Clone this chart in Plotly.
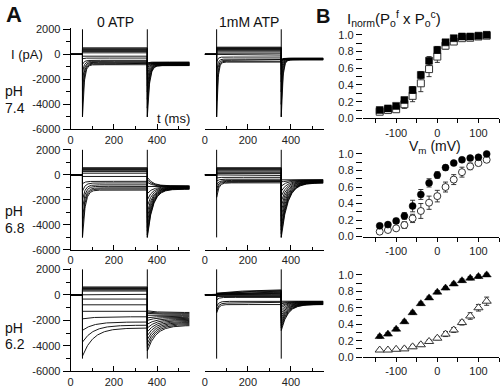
import numpy as np
import plotly.graph_objects as go

# ---------------- Panel A data (pA), one entry per voltage step ----------------
T_ON, T_OFF, T_END = 55, 355, 550
CAP_TOP, CAP_BOTTOM = 2000, -5000

# pH 7.4, 0 ATP
p74_0_ss = [520, 450, 380, 300, 220, 120, -150, -300, -480, -560, -640, -710, -770, -830]
p74_0_on = [520, 450, 380, 300, 220, 120, -150, -350, -800, -1400, -2100, -2900, -3900, -5000]
p74_0_tau = 8
p74_0_tail_on = [-5000, -4300, -3600, -3000, -2500, -2000, -1600, -1300, -1100, -950, -850, -780, -720, -680]
p74_0_tail_ss = [-900, -880, -860, -840, -820, -800, -780, -760, -740, -720, -700, -680, -650, -620]
p74_0_tail_tau = 10

# pH 7.4, 1 mM ATP
p74_1_ss = [570, 520, 470, 420, 370, 320, 200, 90, -60, -220, -380, -470, -550, -620]
p74_1_on = [570, 520, 470, 420, 370, 320, 200, 90, -60, -600, -1400, -2500, -3700, -5000]
p74_1_tau = 6
p74_1_tail_on = [-5000, -4000, -3000, -2200, -1600, -1200, -900, -700, -600, -550, -500, -470, -440, -420]
p74_1_tail_ss = [-440, -430, -420, -410, -400, -390, -380, -370, -360, -350, -340, -330, -320, -310]
p74_1_tail_tau = 7

# pH 6.8, 0 ATP
p68_0_ss = [570, 500, 430, 360, 260, 130, -130, -520, -650, -800, -920, -1040, -1130, -1220]
p68_0_on = [570, 500, 430, 360, 260, 130, -130, -700, -1300, -2000, -2700, -3500, -4200, -5000]
p68_0_tau = 12
p68_0_tail_on = [-5000, -4800, -4500, -4200, -3800, -3400, -3000, -2500, -2000, -1500, -900, -600, -400, -200]
p68_0_tail_ss = [-1150, -1120, -1100, -1080, -1060, -1040, -1020, -1000, -980, -960, -940, -920, -900, -880]
p68_0_tail_tau = 25

# pH 6.8, 1 mM ATP
p68_1_ss = [570, 500, 440, 380, 300, 200, 100, -50, -200, -350, -450, -520, -580, -640]
p68_1_on = [570, 500, 440, 380, 300, 200, 100, -50, -250, -500, -800, -1100, -1400, -1800]
p68_1_tau = 10
p68_1_tail_on = [-5000, -4700, -4400, -4100, -3700, -3300, -2900, -2500, -2100, -1700, -1300, -900, -600, -400]
p68_1_tail_ss = [-650, -630, -610, -590, -570, -550, -530, -510, -490, -470, -450, -430, -410, -390]
p68_1_tail_tau = 30

# pH 6.2, 0 ATP
p62_0_ss = [620, 560, 500, 440, 380, 300, 40, -330, -780, -1290, -1720, -2130, -2380, -2600]
p62_0_on = [620, 560, 500, 440, 380, 300, 40, -330, -780, -1290, -1880, -2780, -3700, -4800]
p62_0_tau = 50
p62_0_tail_on = [-4400, -4100, -3800, -3500, -3200, -2900, -2600, -2300, -2000, -1800, -1600, -1450, -1350, -1250]
p62_0_tail_ss = [-2400, -2320, -2240, -2160, -2080, -2000, -1920, -1840, -1760, -1680, -1600, -1520, -1450, -1380]
p62_0_tail_tau = 40

# pH 6.2, 1 mM ATP
p62_1_ss = [430, 370, 310, 250, 190, 130, 70, 10, -60, -130, -200, -510, -640, -760]
p62_1_on = [130, 110, 90, 70, 50, 30, 10, -10, -60, -130, -400, -900, -1200, -1400]
p62_1_tau = [150, 150, 150, 150, 150, 150, 150, 150, 10, 10, 10, 10, 10, 10]
p62_1_tail_on = [-2800, -2600, -2400, -2200, -2000, -1800, -1600, -1400, -1200, -1000, -850, -700, -600, -500]
p62_1_tail_ss = [-760, -740, -720, -700, -680, -660, -640, -620, -600, -580, -560, -540, -520, -500]
p62_1_tail_tau = 30

# ---------------- Panel B data ----------------
vm = [-140, -120, -100, -80, -60, -40, -20, 0, 20, 40, 60, 80, 100, 120]

b1_filled = [0.10, 0.12, 0.15, 0.22, 0.34, 0.52, 0.69, 0.82, 0.91, 0.96, 0.98, 0.98, 0.99, 1.00]
b1_filled_err = [0.01, 0.01, 0.02, 0.03, 0.04, 0.04, 0.05, 0.04, 0.03, 0.02, 0.01, 0.01, 0.01, 0.01]
b1_open = [0.08, 0.10, 0.11, 0.17, 0.27, 0.42, 0.59, 0.74, 0.87, 0.92, 0.96, 0.965, 0.98, 0.99]
b1_open_err = [0.01, 0.02, 0.03, 0.05, 0.07, 0.10, 0.09, 0.07, 0.04, 0.02, 0.02, 0.01, 0.01, 0.01]

b2_filled = [0.13, 0.145, 0.19, 0.25, 0.37, 0.51, 0.65, 0.745, 0.835, 0.89, 0.93, 0.95, 0.96, 1.00]
b2_filled_err = [0.02, 0.02, 0.03, 0.04, 0.07, 0.06, 0.05, 0.04, 0.03, 0.02, 0.02, 0.01, 0.01, 0.01]
b2_open = [0.06, 0.08, 0.10, 0.14, 0.22, 0.31, 0.41, 0.49, 0.60, 0.69, 0.78, 0.85, 0.89, 0.93]
b2_open_err = [0.01, 0.02, 0.02, 0.04, 0.05, 0.09, 0.08, 0.07, 0.06, 0.06, 0.06, 0.04, 0.03, 0.03]

b3_filled = [0.25, 0.28, 0.34, 0.43, 0.54, 0.65, 0.72, 0.79, 0.84, 0.89, 0.93, 0.96, 0.98, 1.00]
b3_filled_err = [0.02, 0.02, 0.02, 0.02, 0.02, 0.02, 0.02, 0.02, 0.02, 0.02, 0.02, 0.02, 0.02, 0.02]
b3_open = [0.086, 0.086, 0.095, 0.10, 0.125, 0.15, 0.19, 0.23, 0.28, 0.33, 0.42, 0.50, 0.60, 0.68]
b3_open_err = [0.01, 0.01, 0.01, 0.02, 0.02, 0.02, 0.02, 0.02, 0.03, 0.03, 0.03, 0.04, 0.04, 0.05]

a_ytick_vals = [2000, 0, -2000, -4000, -6000]
a_ytick_text = ["2000", "0", "-2000", "-4000", "-6000"]
a_xtick_vals = [0, 200, 400]
a_xtick_text = ["0", "200", "400"]
b_xtick_vals = [-100, 0, 100]
b_xtick_text = ["-100", "0", "100"]
b_ytick_vals = [0, 0.2, 0.4, 0.6, 0.8, 1.0]
b_ytick_text = ["0.0", "0.2", "0.4", "0.6", "0.8", "1.0"]

# ---------------- helpers ----------------
W, H = 500, 391
FONT = "Liberation Sans, Arial, sans-serif"


def px(x):
    return x / W


def py(y):
    return 1 - y / H


def build_traces(ss, on, tau, tail_on, tail_ss, tail_tau):
    t1 = np.linspace(T_ON, T_OFF, 240)
    t2 = np.linspace(T_OFF, T_END, 200)
    xs, ys = [], []
    for i in range(len(ss)):
        ta = tau[i] if isinstance(tau, list) else tau
        tb = tail_tau[i] if isinstance(tail_tau, list) else tail_tau
        y1 = ss[i] + (on[i] - ss[i]) * np.exp(-(t1 - T_ON) / ta)
        y2 = tail_ss[i] + (tail_on[i] - tail_ss[i]) * np.exp(-(t2 - T_OFF) / tb)
        xs += [0, T_ON] + list(t1) + list(t2) + [None]
        ys += [0, 0] + list(y1) + list(y2) + [None]
    return xs, ys


fig = go.Figure()

a_panels = [
    (p74_0_ss, p74_0_on, p74_0_tau, p74_0_tail_on, p74_0_tail_ss, p74_0_tail_tau),
    (p74_1_ss, p74_1_on, p74_1_tau, p74_1_tail_on, p74_1_tail_ss, p74_1_tail_tau),
    (p68_0_ss, p68_0_on, p68_0_tau, p68_0_tail_on, p68_0_tail_ss, p68_0_tail_tau),
    (p68_1_ss, p68_1_on, p68_1_tau, p68_1_tail_on, p68_1_tail_ss, p68_1_tail_tau),
    (p62_0_ss, p62_0_on, p62_0_tau, p62_0_tail_on, p62_0_tail_ss, p62_0_tail_tau),
    (p62_1_ss, p62_1_on, p62_1_tau, p62_1_tail_on, p62_1_tail_ss, p62_1_tail_tau),
]

# pixel geometry of the A rows: (y of -6000, y of 2000)
a_rows = [(128, 25), (252, 149), (377, 272)]
a_cols = [(68, 188), (203, 322.6)]
A_YMIN, A_YMAX, A_XMAX = -6000, 2100, 552

layout = dict(
    width=W, height=H, margin=dict(l=0, r=0, t=0, b=0),
    paper_bgcolor="white", plot_bgcolor="white", showlegend=False,
    font=dict(family=FONT, color="#111", size=11),
)

ax = 0
for k, params in enumerate(a_panels):
    ax += 1
    r, c = divmod(k, 2)
    ybot, y2000 = a_rows[r]
    ppu = (ybot - y2000) / 8000.0
    ytop = ybot - (A_YMAX - A_YMIN) * ppu
    xs, ys = build_traces(*params)
    xname = "x" if ax == 1 else f"x{ax}"
    yname = "y" if ax == 1 else f"y{ax}"
    fig.add_trace(go.Scatter(x=xs, y=ys, mode="lines", xaxis=xname, yaxis=yname,
                             line=dict(color="black", width=0.9), hoverinfo="skip"))
    fig.add_trace(go.Scatter(x=[T_ON, T_ON, None, T_OFF, T_OFF],
                             y=[CAP_TOP, CAP_BOTTOM, None, CAP_TOP, CAP_BOTTOM],
                             mode="lines", xaxis=xname, yaxis=yname,
                             line=dict(color="black", width=1), hoverinfo="skip"))
    xk = "xaxis" if ax == 1 else f"xaxis{ax}"
    yk = "yaxis" if ax == 1 else f"yaxis{ax}"
    layout[xk] = dict(
        domain=[px(a_cols[c][0]), px(a_cols[c][1])], range=[0, A_XMAX], anchor=yname,
        showline=True, linecolor="black", linewidth=1, ticks="inside", ticklen=5,
        tickcolor="black", tickvals=a_xtick_vals, ticktext=a_xtick_text,
        minor=dict(ticks="inside", ticklen=3, dtick=100, tick0=0, tickcolor="black"),
        showgrid=False, zeroline=False, tickfont=dict(size=11, color="#222"),
    )
    if c == 0:
        layout[yk] = dict(
            domain=[py(ybot), py(ytop)], range=[A_YMIN, A_YMAX], anchor=xname,
            showline=True, linecolor="black", linewidth=1, ticks="outside", ticklen=7,
            tickcolor="black", tickvals=a_ytick_vals, ticktext=a_ytick_text,
            minor=dict(ticks="outside", ticklen=4, dtick=1000, tick0=0, tickcolor="black"),
            showgrid=False, zeroline=False, tickfont=dict(size=11, color="#222"),
        )
    else:
        layout[yk] = dict(domain=[py(ybot), py(ytop)], range=[A_YMIN, A_YMAX],
                          anchor=xname, visible=False)

# ---------------- Panel B ----------------
b_rows = [(116.7, 30.7), (238.3, 153.3), (362.3, 277.7)]
B_XL, B_XR = 362, 499
B_XMIN, B_XMAX = -181, 150
B_YMAX = 1.06
b_sets = [
    (b1_filled, b1_filled_err, b1_open, b1_open_err, "square"),
    (b2_filled, b2_filled_err, b2_open, b2_open_err, "circle"),
    (b3_filled, b3_filled_err, b3_open, b3_open_err, "triangle-up"),
]
for r, (fv, fe, ov, oe, sym) in enumerate(b_sets):
    ax += 1
    xname, yname = f"x{ax}", f"y{ax}"
    y0, y1 = b_rows[r]
    ppu = y0 - y1
    ytop = y0 - B_YMAX * ppu
    msize = 7 if sym != "triangle-up" else 8
    fig.add_trace(go.Scatter(
        x=vm, y=ov, mode="markers", xaxis=xname, yaxis=yname,
        marker=dict(symbol=sym, size=msize, color="white", line=dict(color="#333", width=1)),
        error_y=dict(type="data", array=oe, color="#222", thickness=0.9, width=2.5),
        hoverinfo="skip"))
    fig.add_trace(go.Scatter(
        x=vm, y=fv, mode="markers", xaxis=xname, yaxis=yname,
        marker=dict(symbol=sym, size=msize, color="black", line=dict(color="black", width=0.5)),
        error_y=dict(type="data", array=fe, color="#222", thickness=0.9, width=2.5),
        hoverinfo="skip"))
    layout[f"xaxis{ax}"] = dict(
        domain=[px(B_XL), px(B_XR)], range=[B_XMIN, B_XMAX], anchor=yname,
        showline=True, linecolor="black", linewidth=1, ticks="outside", ticklen=4,
        tickcolor="black", tickvals=b_xtick_vals, ticktext=b_xtick_text,
        minor=dict(ticks="outside", ticklen=4, dtick=50, tick0=0, tickcolor="black"),
        showgrid=False, zeroline=False, tickfont=dict(size=11, color="#222"),
    )
    layout[f"yaxis{ax}"] = dict(
        domain=[py(y0), py(ytop)], range=[0, B_YMAX], anchor=xname,
        showline=False, ticks="outside", ticklen=6,
        tickcolor="black", tickvals=b_ytick_vals, ticktext=b_ytick_text,
        minor=dict(ticks="outside", ticklen=6, dtick=0.1, tick0=0, tickcolor="black"),
        showgrid=False, zeroline=False, tickfont=dict(size=11, color="#222"),
    )

fig.update_layout(**layout)


def label(text, x, y, size, xanchor="center", bold=False):
    if bold:
        text = f"<b>{text}</b>"
    fig.add_annotation(text=text, x=px(x), y=py(y), xref="paper", yref="paper",
                       xanchor=xanchor, yanchor="middle", showarrow=False,
                       font=dict(size=size, color="#111", family=FONT))


label("A", 1, 10, 22, xanchor="left", bold=True)
label("B", 313, 11, 20, xanchor="left", bold=True)
label("0 ATP", 113, 18, 14)
label("1mM ATP", 247, 18, 14)
label("I (pA)", 6, 51, 13, xanchor="left")
label("t (ms)", 172, 117, 13)
label("pH", 0, 88, 14, xanchor="left")
label("7.4", 0, 106, 14, xanchor="left")
label("pH", 0, 212, 14, xanchor="left")
label("6.8", 0, 229, 14, xanchor="left")
label("pH", 0, 332, 14, xanchor="left")
label("6.2", 0, 349, 14, xanchor="left")
label("I<sub>norm</sub>(P<sub>o</sub><sup>f</sup> x P<sub>o</sub><sup>c</sup>)", 344, 14, 15, xanchor="left")
label("V<sub>m</sub> (mV)", 435, 146, 14)

fig.write_html("out.html", config={"displayModeBar": False},
               post_script="document.body.style.margin='0';document.body.style.padding='0';")
